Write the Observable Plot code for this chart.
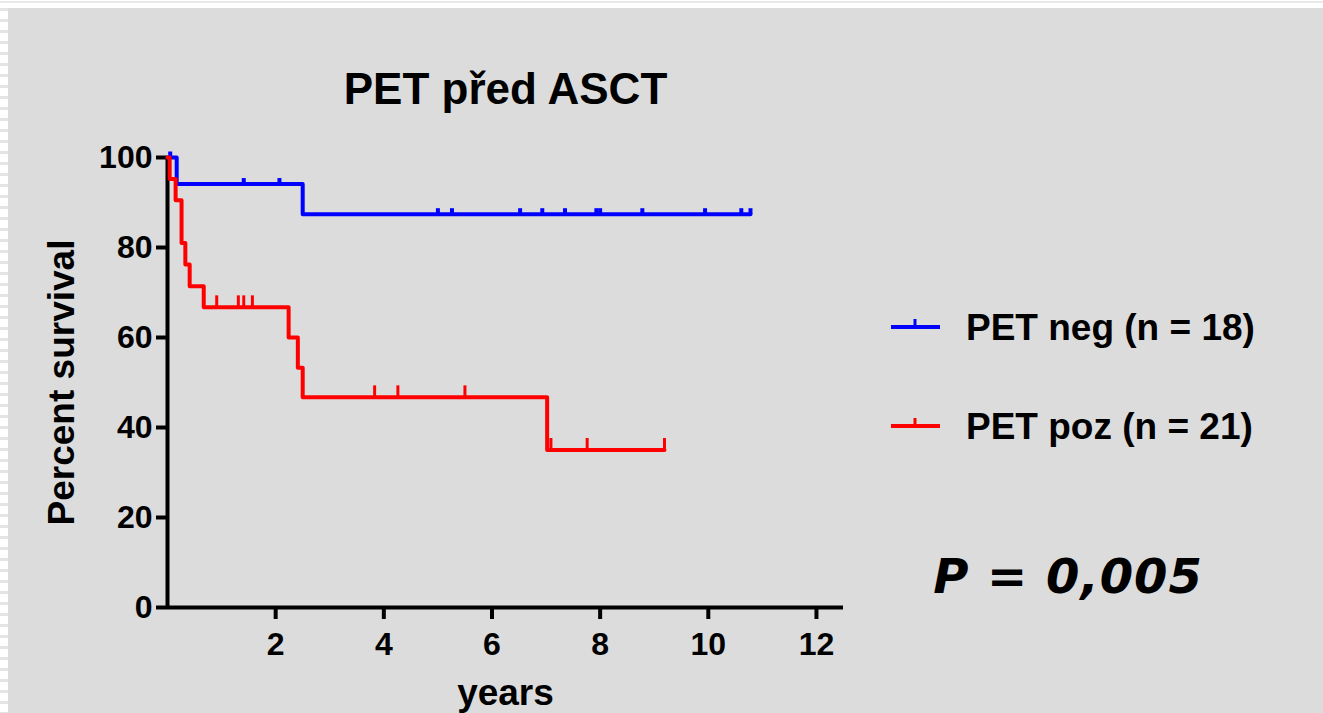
<!DOCTYPE html>
<html><head><meta charset="utf-8">
<script src="https://cdn.jsdelivr.net/npm/d3@7"></script>
<script src="https://cdn.jsdelivr.net/npm/@observablehq/plot@0.6"></script>
<style>
html,body{margin:0;padding:0;background:#fff;width:1323px;height:713px;overflow:hidden;}
#stripes{position:absolute;left:0;top:0;width:8px;height:713px;background:repeating-linear-gradient(to bottom,#fff 0,#fff 8px,#e4e4e4 8px,#e4e4e4 11px);}
#topline{position:absolute;left:0;top:1px;width:1323px;height:2px;background:#e8e8e8;}
#panel{position:absolute;left:8px;top:8px;right:0;bottom:0;background:#dcdcdc;}
#chart{position:absolute;left:0;top:0;}
</style></head><body>
<div id="stripes"></div><div id="topline"></div><div id="panel"></div><div id="chart"></div>
<script>
const title = "PET před ASCT";
const xLabel = "years";
const yLabel = "Percent survival";
const pValueText = "P = 0,005";
const xTicks = [2, 4, 6, 8, 10, 12];
const yTicks = [0, 20, 40, 60, 80, 100];
const seriesNames = ["PET neg (n = 18)", "PET poz (n = 21)"];
const seriesColors = ["#0000ff", "#ff0000"];

// PET neg: Kaplan-Meier step points (years, % survival)
const negTime = [0, 0.17, 2.50, 10.78];
const negSurv = [100, 94.1, 87.4, 87.4];
const negCensor = [0.05, 1.41, 2.07, 5.00, 5.26, 6.52, 6.93, 7.35, 7.93, 8.00, 8.78, 9.94, 10.61, 10.78];

// PET poz
const posTime = [0, 0.04, 0.15, 0.26, 0.33, 0.41, 0.67, 2.24, 2.41, 2.50, 7.02, 9.19];
const posSurv = [100, 95.2, 90.5, 81.0, 76.2, 71.4, 66.7, 60.0, 53.3, 46.7, 35.0, 35.0];
const posCensor = [0.91, 1.31, 1.41, 1.57, 3.83, 4.26, 5.50, 7.09, 7.76, 9.19];

function steps(times, surv) { return times.map((t, i) => ({t, s: surv[i]})); }
function survAt(times, surv, t) { let s = surv[0]; times.forEach((tt, i) => { if (tt <= t) s = surv[i]; }); return s; }
function censors(ct, times, surv) { return ct.map(t => ({t, s: survAt(times, surv, t)})); }

const negSteps = steps(negTime, negSurv), posSteps = steps(posTime, posSurv);
const negC = censors(negCensor, negTime, negSurv), posC = censors(posCensor, posTime, posSurv);

const tickSym = h => ({draw(ctx) { ctx.moveTo(0, 0); ctx.lineTo(0, -h); }});
const FONT = "'Liberation Sans', Arial, sans-serif";

const chart = Plot.plot({
  width: 1323, height: 713,
  marginLeft: 167, marginTop: 157, marginBottom: 106, marginRight: 480,
  style: {background: "transparent", fontFamily: FONT, color: "black"},
  x: {domain: [0, 12.5]},
  y: {domain: [0, 100]},
  marks: [
    Plot.axisY({ticks: yTicks, tickSize: 11, tickPadding: 4, strokeWidth: 4, fontSize: 32, fontWeight: "bold", label: null}),
    Plot.axisX({ticks: xTicks, tickSize: 12, tickPadding: 13, strokeWidth: 4, fontSize: 32, fontWeight: "bold", label: null}),
    Plot.ruleX([0], {strokeWidth: 4}),
    Plot.ruleY([0], {strokeWidth: 4}),
    Plot.line(negSteps, {x: "t", y: "s", curve: "step-after", stroke: seriesColors[0], strokeWidth: 4}),
    Plot.dot(negC, {x: "t", y: "s", symbol: tickSym(6), stroke: seriesColors[0], strokeWidth: 4, fill: "none"}),
    Plot.line(posSteps, {x: "t", y: "s", curve: "step-after", stroke: seriesColors[1], strokeWidth: 4}),
    Plot.dot(posC, {x: "t", y: "s", symbol: tickSym(12), stroke: seriesColors[1], strokeWidth: 3, fill: "none"}),
    Plot.text([title], {text: d => d, frameAnchor: "top", lineAnchor: "middle", textAnchor: "middle", dy: -68, fontSize: 44, fontWeight: "bold"}),
    Plot.text([xLabel], {text: d => d, frameAnchor: "bottom", lineAnchor: "middle", textAnchor: "middle", dy: 86, fontSize: 37, fontWeight: "bold"}),
    Plot.text([yLabel], {text: d => d, frameAnchor: "left", lineAnchor: "middle", textAnchor: "middle", dx: -105, rotate: -90, fontSize: 37, fontWeight: "bold"})
  ]
});
document.getElementById("chart").appendChild(chart);

// legend and p-value
const svg = d3.select(chart);
const legendY = [327, 426];
seriesNames.forEach((name, i) => {
  const g = svg.append("g").attr("transform", `translate(891,${legendY[i]})`);
  g.append("line").attr("x1", 0).attr("x2", 49).attr("y1", 0).attr("y2", 0).attr("stroke", seriesColors[i]).attr("stroke-width", 4);
  g.append("line").attr("x1", 24).attr("x2", 24).attr("y1", 0).attr("y2", -8).attr("stroke", seriesColors[i]).attr("stroke-width", 3);
  g.append("text").attr("x", 75).attr("y", 0).attr("dy", "0.35em").attr("text-anchor", "start").attr("font-size", 37).attr("font-weight", "bold").attr("font-family", FONT).attr("fill", "black").text(name);
});
svg.append("text").attr("x", 1068).attr("y", 576).attr("dy", "0.35em").attr("text-anchor", "middle")
  .attr("font-family", "'DejaVu Sans', Verdana, sans-serif").attr("font-weight", "bold").attr("font-style", "italic")
  .attr("font-size", 48).attr("letter-spacing", 1).attr("fill", "black").text(pValueText);
</script>
</body></html>
